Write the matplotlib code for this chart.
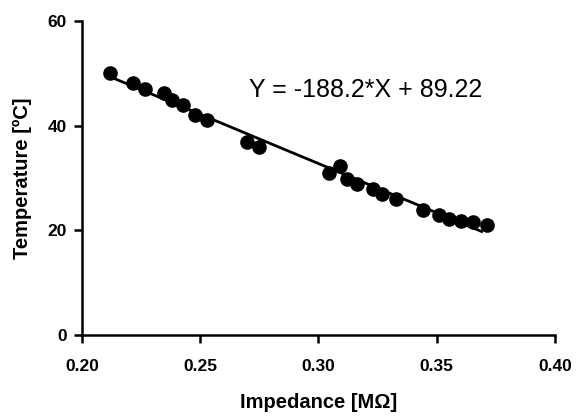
import numpy as np
import matplotlib
matplotlib.use('Agg')
import matplotlib.pyplot as plt

# datos
impedance = [0.2118, 0.2214, 0.2266, 0.2348, 0.2379, 0.2428, 0.2478, 0.2527,
             0.2696, 0.2747, 0.3045, 0.3091, 0.3119, 0.3162, 0.3229, 0.3270,
             0.3327, 0.3440, 0.3511, 0.3552, 0.3601, 0.3652, 0.3711]
temperature = [50.0, 48.1, 47.0, 46.2, 45.0, 44.0, 42.0, 41.0,
               36.9, 36.0, 30.9, 32.2, 29.9, 28.9, 27.9, 26.9,
               25.9, 23.9, 22.9, 22.2, 21.7, 21.5, 21.1]
slope = -188.2
intercept = 89.22
fit_range = [0.2118, 0.369]

plt.rcParams['font.family'] = ['Liberation Sans', 'DejaVu Sans']

fig = plt.figure(figsize=(5.79, 4.16), dpi=100)
ax = fig.add_axes([0.1416, 0.1947, 0.8169, 0.7548])

xf = np.array(fit_range)
ax.plot(xf, slope * xf + intercept, color='black', lw=2.0, zorder=2)
ax.plot(impedance, temperature, 'o', color='black', ms=9.5, zorder=3)

ax.text(0.320, 46.8, 'Y = -188.2*X + 89.22', fontsize=18, ha='center', va='center')

ax.set_xlim(0.2, 0.4)
ax.set_ylim(0, 60)
ax.set_xticks([0.20, 0.25, 0.30, 0.35, 0.40])
ax.set_xticklabels(['0.20', '0.25', '0.30', '0.35', '0.40'])
ax.set_yticks([0, 20, 40, 60])

for s in ['top', 'right']:
    ax.spines[s].set_visible(False)
for s in ['left', 'bottom']:
    ax.spines[s].set_linewidth(1.8)
ax.tick_params(direction='out', length=6, width=1.8, labelsize=12.5)
ax.tick_params(axis='x', pad=11)
ax.tick_params(axis='y', pad=5)
for lab in ax.get_xticklabels() + ax.get_yticklabels():
    lab.set_fontweight('bold')

ax.set_xlabel('Impedance [MΩ]', fontsize=14.5, fontweight='bold', labelpad=14)
ax.set_ylabel('Temperature [ºC]', fontsize=14.5, fontweight='bold', labelpad=11)

fig.savefig('out.png', dpi=100)
